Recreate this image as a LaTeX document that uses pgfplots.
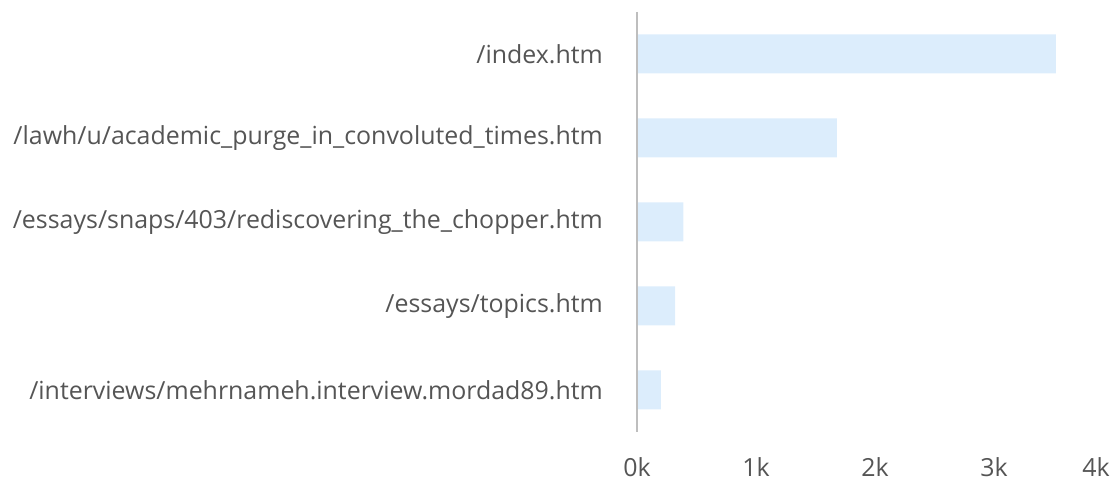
\documentclass[border=0pt]{standalone}
\usepackage{pgfplots}
\pgfplotsset{compat=1.18}
\usepackage{fontspec}
\setmainfont{Open Sans}
\definecolor{barfill}{RGB}{220,237,252}
\definecolor{txt}{RGB}{85,85,85}
\definecolor{axl}{RGB}{190,190,190}
\begin{document}
\begin{tikzpicture}[x=1bp,y=1bp]
\useasboundingbox (0,0) rectangle (1119,479);
\begin{axis}[
  at={(637bp,47bp)}, anchor=south west,
  scale only axis, width=476bp, height=420bp,
  xbar, bar width=39bp,
  xmin=0, xmax=4000, ymin=-0.5, ymax=4.5, y dir=reverse,
  axis line style={draw=none},
  major tick length=0pt,
  xtick={0,1000,2000,3000},
  xticklabels={0k,1k,2k,3k},
  ytick={0,1,2,3,4},
  yticklabels={/index.htm,/lawh/u/academic\_purge\_in\_convoluted\_times.htm,/essays/snaps/403/rediscovering\_the\_chopper.htm,/essays/topics.htm,/interviews/mehrnameh.interview.mordad89.htm},
  ticklabel style={font=\fontsize{25}{30}\selectfont, text=txt, inner sep=0pt},
  xticklabel style={anchor=center, yshift=-35bp},
  yticklabel style={anchor=east, xshift=-34bp},
  /pgf/number format/assume math mode=true,
  clip=false,
]
\addplot[fill=barfill, draw=none] coordinates {(3520,0) (1680,1) (390,2) (320,3) (200,4)};
\draw[axl, line width=2bp] (axis cs:0,-0.5) -- (axis cs:0,4.5);
\node[font=\fontsize{25}{30}\selectfont, text=txt, inner sep=0pt, anchor=east, yshift=-35bp, xshift=-3bp] at (axis cs:4000,4.5) {4k};
\end{axis}
\end{tikzpicture}
\end{document}
